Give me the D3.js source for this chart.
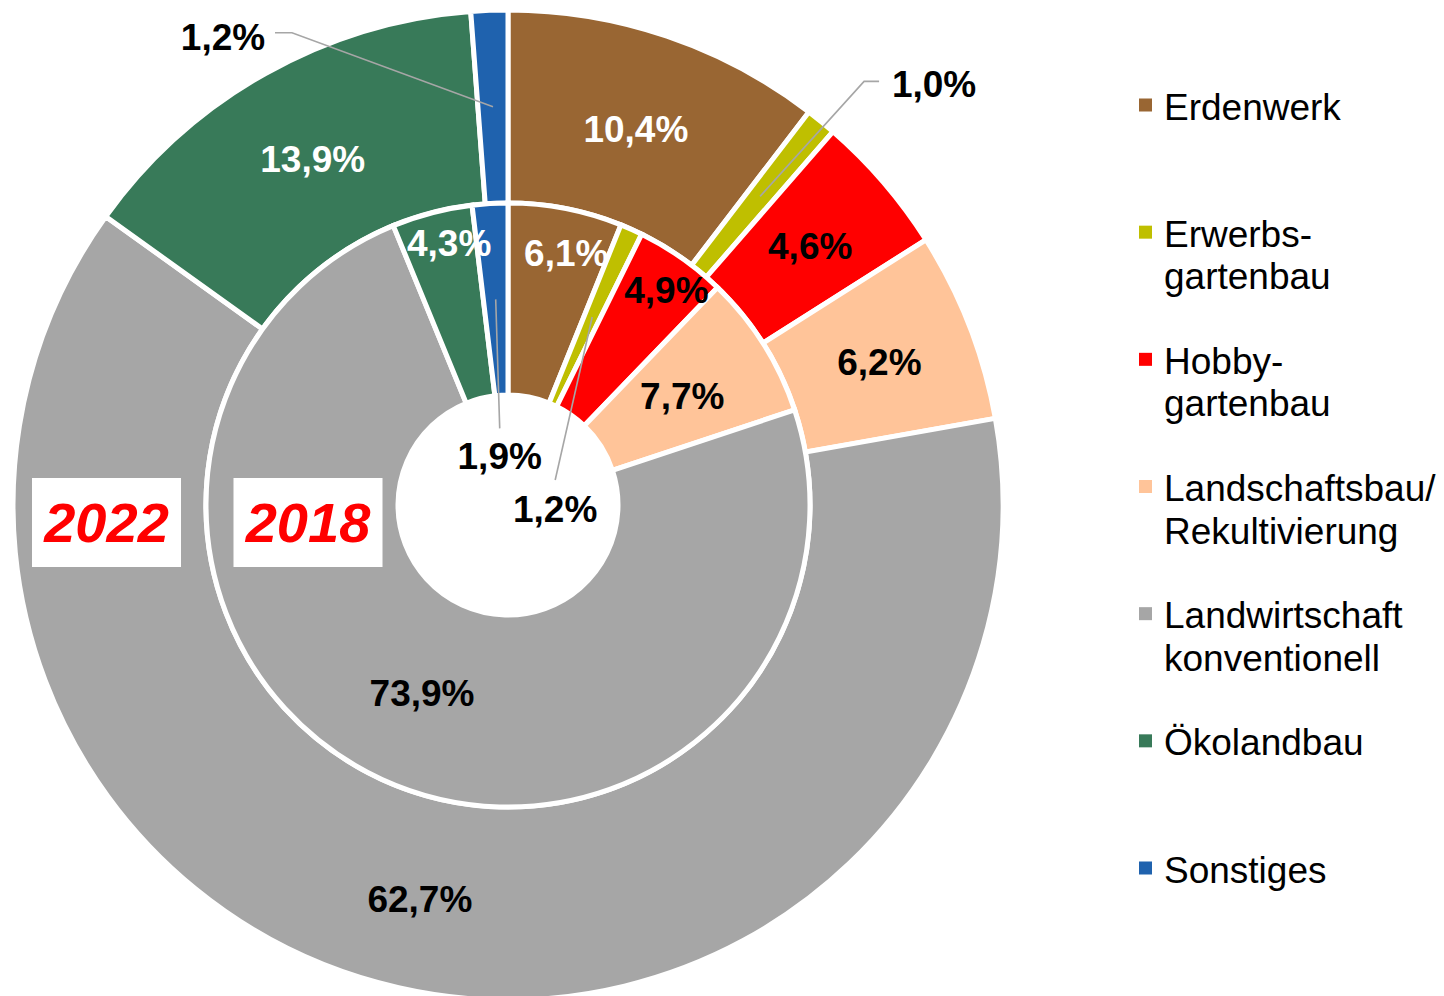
<html>
<head>
  <meta charset="utf-8">
  <script src="https://d3js.org/d3.v7.min.js"></script>
  <style>
    body { margin: 0; background: #fff; }
    svg text { font-family: Arial, "Liberation Sans", sans-serif; }
  </style>
</head>
<body>
  <svg id="donut" width="1444" height="996"></svg>
  <script>
    // categories in clockwise order starting at 12 o'clock
    const categories = ["Erdenwerk", "Erwerbsgartenbau", "Hobbygartenbau", "Landschaftsbau/Rekultivierung",
                        "Landwirtschaft konventionell", "Ökolandbau", "Sonstiges"];
    const legendLines = [["Erdenwerk"], ["Erwerbs-", "gartenbau"], ["Hobby-", "gartenbau"],
                         ["Landschaftsbau/", "Rekultivierung"], ["Landwirtschaft", "konventionell"],
                         ["Ökolandbau"], ["Sonstiges"]];
    const colors = ["#996633", "#BFBF00", "#FF0000", "#FFC499", "#A6A6A6", "#387A59", "#1F62AE"];

    // shares in percent
    const values2022 = [10.4, 1.0, 4.6, 6.2, 62.7, 13.9, 1.2];   // outer ring
    const values2018 = [6.1, 1.2, 4.9, 7.7, 73.9, 4.3, 1.9];     // inner ring
    const yearLabels = ["2022", "2018"];

    const svg = d3.select("svg#donut");
    const cx = 508, cy = 505;

    const de = d3.formatLocale({ decimal: ",", thousands: ".", grouping: [3], currency: ["", " €"] });
    const fmt = v => de.format(".1f")(v) + "%";

    const pie = d3.pie().sort(null).value(d => d.value);

    const rings = [
      { year: "2022", values: values2022, r0: 302, r1: 495 },
      { year: "2018", values: values2018, r0: 110, r1: 302 }
    ];

    // white label text on the dark slices
    const whiteText = { "2022": [0, 5], "2018": [0, 5] };

    // label offsets from the slice centroid (only where the label was moved)
    // lead: leader line points relative to the label centre
    const labelNudge = {
      "2022": {
        1: { dx: 174, dy: -113, lead: [[-70, -2], [-55, -2]] },
        4: { dx: 0, dy: 4 },
        6: { dx: -270, dy: -71, lead: [[69, -3], [52, -3]] }
      },
      "2018": {
        0: { dx: 19, dy: -51 },
        1: { dx: -37, dy: 191, lead: [[0, -28]] },
        2: { dx: 40, dy: -48 },
        5: { dx: -7, dy: -64 },
        6: { dx: 4, dy: 156, lead: [[0, -27]] }
      }
    };

    const g = svg.append("g").attr("transform", `translate(${cx},${cy})`);

    rings.forEach(ring => {
      const data = categories.map((c, i) => ({ cat: c, idx: i, value: ring.values[i] }));
      const arc = d3.arc().innerRadius(ring.r0).outerRadius(ring.r1);
      const arcs = pie(data);

      g.append("g").selectAll("path")
        .data(arcs)
        .join("path")
        .attr("d", arc)
        .attr("fill", d => colors[d.data.idx])
        .attr("stroke", "#fff")
        .attr("stroke-width", 5)
        .attr("stroke-linejoin", "miter");

      ring.arcs = arcs;
      ring.arc = arc;
    });

    // labels drawn above all slices
    rings.forEach(ring => {
      const nudges = labelNudge[ring.year];
      ring.arcs.forEach(d => {
        const [x0, y0] = ring.arc.centroid(d);
        const n = nudges[d.data.idx] || { dx: 0, dy: 0 };
        const lx = x0 + n.dx, ly = y0 + n.dy;

        if (n.lead) {
          const pts = [[x0, y0]].concat(n.lead.map(p => [lx + p[0], ly + p[1]]));
          g.append("path")
            .attr("d", d3.line()(pts))
            .attr("fill", "none")
            .attr("stroke", "#A6A6A6")
            .attr("stroke-width", 1.6);
        }

        g.append("text")
          .attr("x", lx)
          .attr("y", ly)
          .attr("dy", "0.38em")
          .attr("text-anchor", "middle")
          .style("font-size", "37px")
          .style("font-weight", "bold")
          .attr("fill", whiteText[ring.year].includes(d.data.idx) && !n.lead ? "#fff" : "#000")
          .text(fmt(d.data.value));
      });
    });

    // year boxes on the left, centred in each ring
    rings.forEach((ring, i) => {
      const rMid = (ring.r0 + ring.r1) / 2;
      const bx = -rMid + (i === 0 ? -3 : 6);
      const by = 17;
      g.append("rect")
        .attr("x", bx - 74.5)
        .attr("y", by - 44)
        .attr("width", 149)
        .attr("height", 89)
        .attr("fill", "#fff");
      g.append("text")
        .attr("x", bx)
        .attr("y", by)
        .attr("dy", "0.36em")
        .attr("text-anchor", "middle")
        .style("font-size", "56px")
        .style("font-weight", "bold")
        .style("font-style", "italic")
        .attr("fill", "#FF0000")
        .text(yearLabels[i]);
    });

    // legend
    const legendY = d3.scalePoint().domain(categories).range([105, 868]);
    const legend = svg.append("g").attr("class", "legend");
    categories.forEach((c, i) => {
      const y = legendY(c);
      legend.append("rect")
        .attr("x", 1139)
        .attr("y", y - 6.5)
        .attr("width", 13)
        .attr("height", 13)
        .attr("fill", colors[i]);
      const t = legend.append("text")
        .attr("x", 1164)
        .attr("y", y + 14.5)
        .style("font-size", "37px")
        .attr("fill", "#000");
      legendLines[i].forEach((line, k) => {
        t.append("tspan")
          .attr("x", 1164)
          .attr("dy", k === 0 ? 0 : 42.5)
          .text(line);
      });
    });
  </script>
</body>
</html>
